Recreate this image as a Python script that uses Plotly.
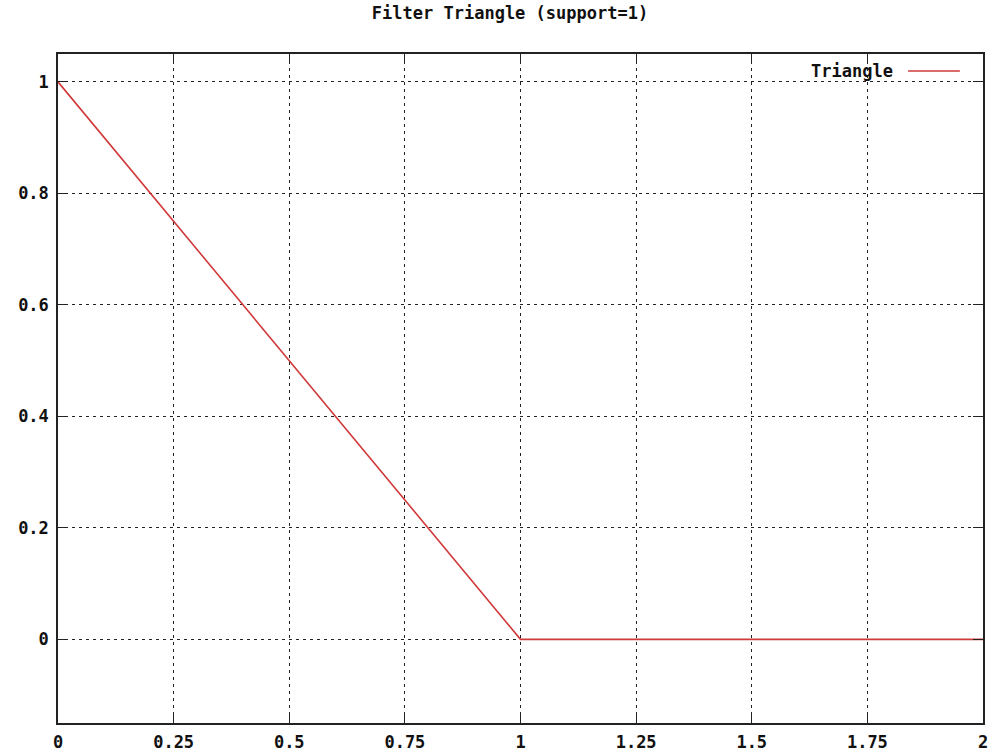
import plotly.graph_objects as go

# Data
x_vals = [0, 1, 2]
y_vals = [1, 0, 0]
series_name = "Triangle"
title_text = "Filter Triangle (support=1)"
x_ticks = [0, 0.25, 0.5, 0.75, 1, 1.25, 1.5, 1.75, 2]
x_tick_labels = ["0", "0.25", "0.5", "0.75", "1", "1.25", "1.5", "1.75", "2"]
y_ticks = [0, 0.2, 0.4, 0.6, 0.8, 1]
y_tick_labels = ["0", "0.2", "0.4", "0.6", "0.8", "1"]

FONT = "DejaVu Sans Mono"
RED = "#d03a3a"
FS = 17

fig = go.Figure()
fig.add_trace(go.Scatter(x=x_vals, y=y_vals, mode="lines", name=series_name,
                         line=dict(color=RED, width=1.6), showlegend=False,
                         cliponaxis=False))

axis_common = dict(
    showline=True, linecolor="#222", linewidth=1.5, mirror="ticks",
    ticks="inside", ticklen=10, tickcolor="#222", tickwidth=1,
    showgrid=True, gridcolor="#222", gridwidth=1, griddash="3px,4px",
    zeroline=False, automargin=False,
    tickfont=dict(family=FONT, size=FS, color="#111", weight="bold"),
)

fig.update_xaxes(range=[0, 2], tickvals=x_ticks, ticktext=x_tick_labels,
                 ticklabelstandoff=3, **axis_common)
fig.update_yaxes(range=[-0.15, 1.05], tickvals=y_ticks, ticktext=y_tick_labels,
                 ticklabelstandoff=4, **axis_common)

# gnuplot-style legend: text then line sample, top-right inside plot
fig.add_annotation(xref="paper", yref="paper", x=0.905, y=0.9746, text=series_name,
                   showarrow=False, xanchor="right", yanchor="middle",
                   font=dict(family=FONT, size=FS, color="#111", weight="bold"))
fig.add_shape(type="line", xref="paper", yref="paper", x0=0.919, x1=0.975,
              y0=0.9746, y1=0.9746, line=dict(color=RED, width=1.6))

fig.update_layout(
    width=993, height=753,
    margin=dict(l=58, r=10, t=54, b=30, autoexpand=False),
    paper_bgcolor="white", plot_bgcolor="white",
    title=dict(text=title_text, x=510 / 993, xanchor="center", y=1 - 13 / 753,
               yanchor="middle",
               font=dict(family=FONT, size=FS, color="#111", weight="bold")),
)

fig.write_html("out.html")
